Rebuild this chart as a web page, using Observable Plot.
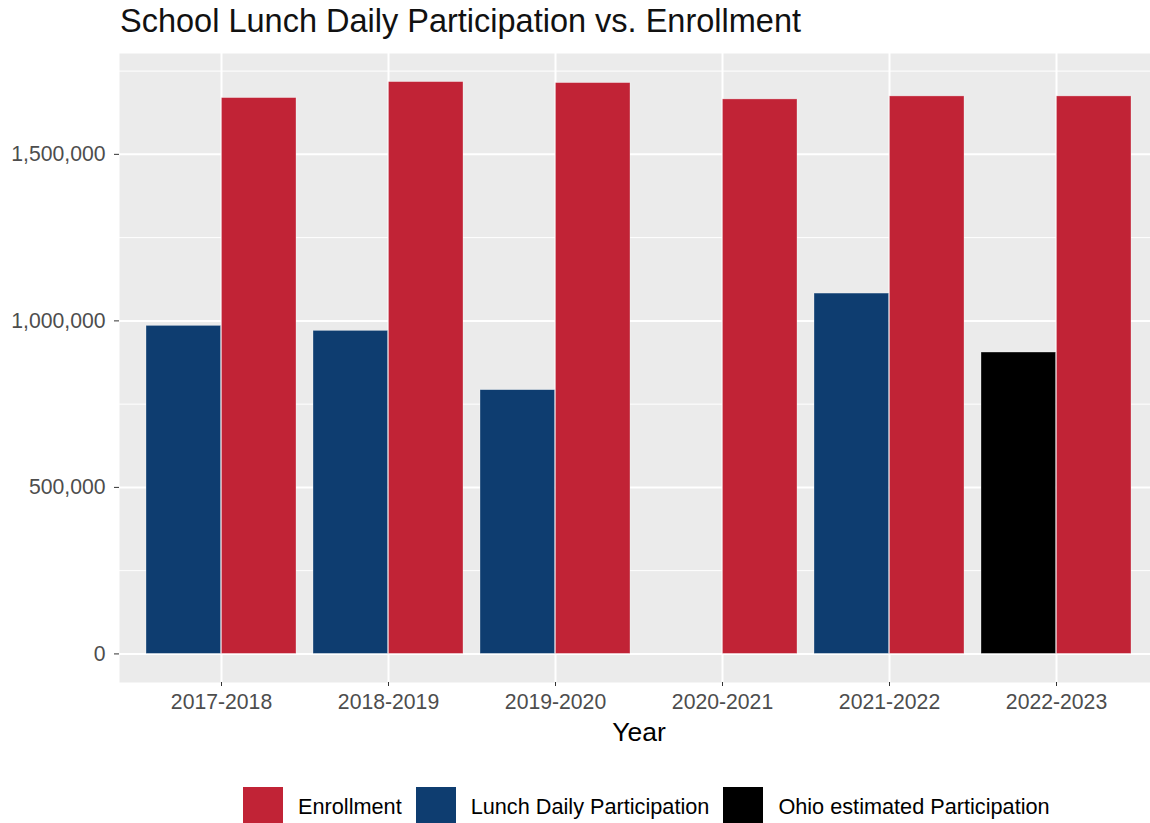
<!DOCTYPE html>
<html>
<head>
<meta charset="utf-8">
<script src="https://cdn.jsdelivr.net/npm/d3@7"></script>
<script src="https://cdn.jsdelivr.net/npm/@observablehq/plot@0.6"></script>
<style>
  html, body { margin: 0; padding: 0; background: white; overflow: hidden; }
  body { font-family: "Liberation Sans", Arial, sans-serif; width: 1158px; }
  #title { font-size: 32.5px; line-height: 43.5px; height: 46px; padding-left: 120px; color: #111; white-space: nowrap; }
  #chart svg { display: block; }
  #legend { margin-top: 35px; margin-left: 243px; }
  #legend span { margin-right: 14px !important; }
  #legend svg { margin-right: 15px !important; }
</style>
</head>
<body>
<div id="title">School Lunch Daily Participation vs. Enrollment</div>
<div id="chart"></div>
<div id="legend"></div>
<script>
const years = ["2017-2018", "2018-2019", "2019-2020", "2020-2021", "2021-2022", "2022-2023"];
const enrollment = [1669000, 1717000, 1714000, 1665000, 1674000, 1674000];
const lunchParticipation = [985000, 970000, 792000, null, 1082000, null];
const ohioEstimated = [null, null, null, null, null, 905000];
const seriesNames = ["Enrollment", "Lunch Daily Participation", "Ohio estimated Participation"];
const seriesColors = ["#C12336", "#0E3D70", "#000000"];
const yTicks = [0, 500000, 1000000, 1500000];
const yMinorTicks = [250000, 750000, 1250000, 1750000];

const enrollRows = [];
const partRows = [];
years.forEach((year, i) => {
  if (lunchParticipation[i] != null) partRows.push({year, series: seriesNames[1], value: lunchParticipation[i]});
  if (ohioEstimated[i] != null) partRows.push({year, series: seriesNames[2], value: ohioEstimated[i]});
  enrollRows.push({year, series: seriesNames[0], value: enrollment[i]});
});

const W = 1158, H = 706, ML = 119, MR = 0, MT = 7, MB = 70;
const xOptions = {type: "band", domain: years, paddingInner: 0.1, paddingOuter: 0.15};
const half = Plot.scale({x: {...xOptions, range: [ML, W - MR]}}).bandwidth / 2;

const yMax = d3.max([...enrollment, ...lunchParticipation, ...ohioEstimated].filter(v => v != null));
const yPad = yMax * 0.05;
const barStyle = {stroke: "white", strokeOpacity: 0.45, strokeWidth: 0.7};

const chart = Plot.plot({
  width: W,
  height: H,
  marginTop: MT,
  marginBottom: MB,
  marginLeft: ML,
  marginRight: MR,
  style: {fontFamily: "'Liberation Sans', Arial, sans-serif", fontSize: "21.2px", background: "white"},
  x: {...xOptions, axis: null, label: null},
  y: {domain: [-yPad, yMax + yPad], axis: null},
  color: {domain: seriesNames, range: seriesColors},
  marks: [
    Plot.frame({fill: "#EBEBEB", stroke: null}),
    Plot.gridY(yMinorTicks, {stroke: "white", strokeOpacity: 1, strokeWidth: 1}),
    Plot.gridY(yTicks, {stroke: "white", strokeOpacity: 1, strokeWidth: 2}),
    Plot.gridX({stroke: "white", strokeOpacity: 1, strokeWidth: 2}),
    Plot.barY(partRows, {x: "year", y: "value", fill: "series", insetRight: half, ...barStyle}),
    Plot.barY(enrollRows, {x: "year", y: "value", fill: "series", insetLeft: half, ...barStyle}),
    Plot.axisY(yTicks, {anchor: "left", tickFormat: d3.format(","), tickSize: 5, tickPadding: 9, fontSize: 21.2, stroke: "#333", fill: "#4D4D4D", label: null}),
    Plot.axisX({anchor: "bottom", tickSize: 4, tickPadding: 7, fontSize: 21.2, stroke: "#333", fill: "#4D4D4D", label: null}),
    Plot.text(["Year"], {frameAnchor: "bottom", dy: 50, text: d => d, fontSize: 26.5, fill: "black", lineAnchor: "middle"})
  ]
});
document.getElementById("chart").appendChild(chart);

const legend = Plot.legend({
  color: {type: "ordinal", domain: seriesNames, range: seriesColors},
  legend: "swatches",
  swatchWidth: 40,
  swatchHeight: 40,
  style: {fontFamily: "'Liberation Sans', Arial, sans-serif", fontSize: "21.7px", color: "black", marginLeft: "0px"}
});
document.getElementById("legend").appendChild(legend);
</script>
</body>
</html>
